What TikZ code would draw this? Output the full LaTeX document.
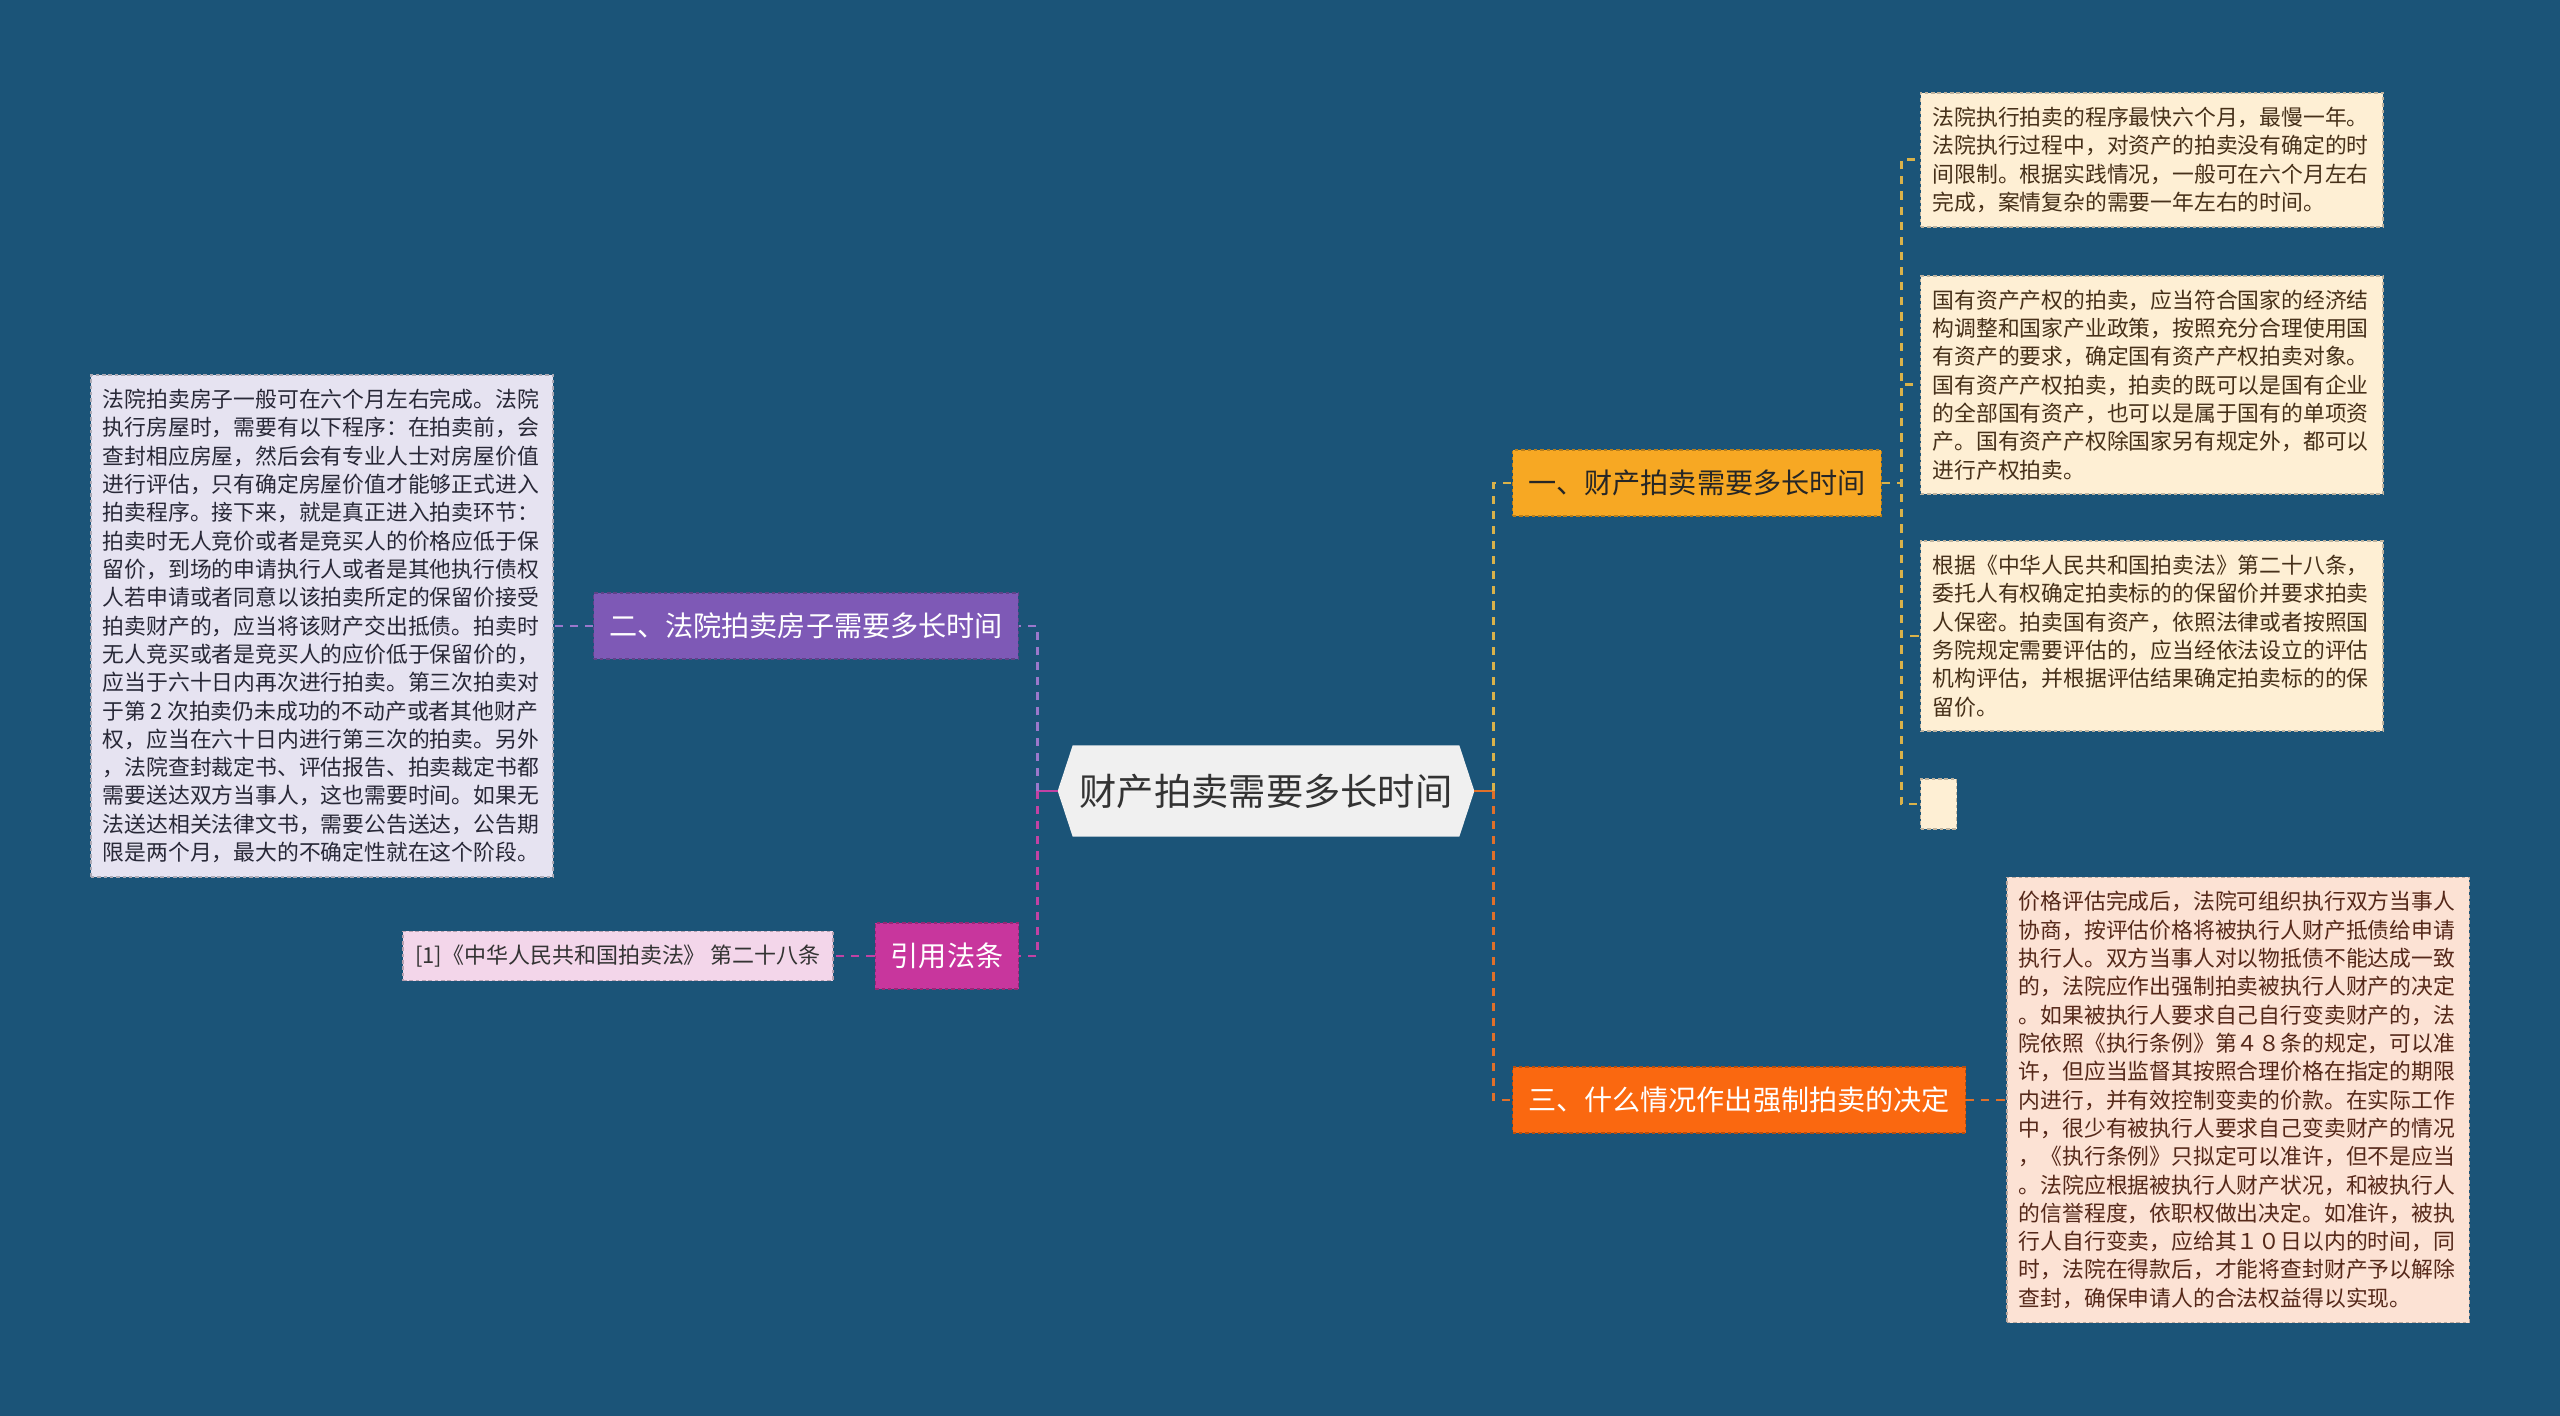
\documentclass[tikz,border=0pt]{standalone}
\usepackage{fontspec}
\setmainfont{Noto Sans CJK SC}
\usetikzlibrary{positioning,backgrounds}
\definecolor{bgBlue}{RGB}{27,84,120}
\definecolor{rootGray}{RGB}{240,240,240}
\definecolor{amber}{RGB}{247,168,35}
\definecolor{amberLine}{RGB}{217,178,74}
\definecolor{lavender}{RGB}{126,89,182}
\definecolor{lavenderLine}{RGB}{155,120,204}
\definecolor{flame}{RGB}{250,104,16}
\definecolor{flameLine}{RGB}{224,112,42}
\definecolor{berry}{RGB}{200,54,157}
\definecolor{berryLine}{RGB}{194,66,164}
\definecolor{creamNote}{RGB}{254,239,212}
\definecolor{peachNote}{RGB}{252,226,212}
\definecolor{lilacNote}{RGB}{230,227,241}
\definecolor{pinkNote}{RGB}{243,214,234}
\definecolor{inkBrown}{RGB}{70,48,25}
\definecolor{inkRed}{RGB}{85,40,25}
\definecolor{inkNavy}{RGB}{40,40,55}

\begin{document}
\begin{tikzpicture}[x=0.01cm, y=-0.01cm, every node/.style={align=left},
    sheet/.style={draw=#1!75!black, fill=#1, dash pattern=on 1pt off 0.8pt, line width=0.4pt},
    rootbox/.style={minimum width=4.15cm, minimum height=0.9cm, inner sep=0pt, text=black!80,
        font=\fontsize{10.6pt}{12pt}\selectfont},
    branchbox/.style={sheet=#1, minimum height=0.66cm, inner xsep=0.155cm, inner ysep=0pt,
        font=\fontsize{8pt}{10pt}\selectfont},
    notebox/.style={sheet=#1, text width=4.38cm, inner xsep=0.12cm, inner ysep=0.14cm,
        font=\fontsize{6.2pt}{8.05pt}\selectfont},
    link/.style={draw=#1, line width=0.85pt, dash pattern=on 2.3pt off 2pt},
    stem/.style={draw=#1, line width=0.85pt}]
    \useasboundingbox (0,0) rectangle (2560,1416);
    \begin{scope}[on background layer]
        \fill[bgBlue] (0,0) rectangle (2560,1416);
    \end{scope}

    % centre and main branches
    \node[rootbox] (root) at (1266,791) {财产拍卖需要多长时间};
    \node[branchbox=amber, text=black!85] (partA) at (1697,483) {一、财产拍卖需要多长时间};
    \node[branchbox=lavender, text=white] (partB) at (806,626) {二、法院拍卖房子需要多长时间};
    \node[branchbox=flame, text=white] (partC) at (1739,1100) {三、什么情况作出强制拍卖的决定};
    \node[branchbox=berry, text=white] (refs) at (947,956) {引用法条};

    \begin{scope}[on background layer]
        \fill[rootGray] (root.west) -- ([xshift=0.15cm]root.north west) -- ([xshift=-0.15cm]root.north east)
            -- (root.east) -- ([xshift=-0.15cm]root.south east) -- ([xshift=0.15cm]root.south west) -- cycle;
    \end{scope}

    % notes of part one
    \node[notebox=creamNote, text=inkBrown, anchor=west] (noteA1) at (1920,160)
        {法院执行拍卖的程序最快六个月，最慢一年。\\法院执行过程中，对资产的拍卖没有确定的时\\间限制。根据实践情况，一般可在六个月左右\\完成，案情复杂的需要一年左右的时间。};
    \node[notebox=creamNote, text=inkBrown, anchor=west] (noteA2) at (1920,385)
        {国有资产产权的拍卖，应当符合国家的经济结\\构调整和国家产业政策，按照充分合理使用国\\有资产的要求，确定国有资产产权拍卖对象。\\国有资产产权拍卖，拍卖的既可以是国有企业\\的全部国有资产，也可以是属于国有的单项资\\产。国有资产产权除国家另有规定外，都可以\\进行产权拍卖。};
    \node[notebox=creamNote, text=inkBrown, anchor=west] (noteA3) at (1920,636)
        {根据《中华人民共和国拍卖法》第二十八条，\\委托人有权确定拍卖标的的保留价并要求拍卖\\人保密。拍卖国有资产，依照法律或者按照国\\务院规定需要评估的，应当经依法设立的评估\\机构评估，并根据评估结果确定拍卖标的的保\\留价。};
    \node[sheet=creamNote, minimum width=0.36cm, minimum height=0.5cm, inner sep=0pt, anchor=west] (noteA4) at (1920,804) {};

    % notes of part two and three
    \node[notebox=lilacNote, text=inkNavy, left=0.39cm of partB] (noteB)
        {法院拍卖房子一般可在六个月左右完成。法院\\执行房屋时，需要有以下程序：在拍卖前，会\\查封相应房屋，然后会有专业人士对房屋价值\\进行评估，只有确定房屋价值才能够正式进入\\拍卖程序。接下来，就是真正进入拍卖环节：\\拍卖时无人竞价或者是竞买人的价格应低于保\\留价，到场的申请执行人或者是其他执行债权\\人若申请或者同意以该拍卖所定的保留价接受\\拍卖财产的，应当将该财产交出抵债。拍卖时\\无人竞买或者是竞买人的应价低于保留价的，\\应当于六十日内再次进行拍卖。第三次拍卖对\\于第\kern0.2em 2\kern0.2em 次拍卖仍未成功的不动产或者其他财产\\权，应当在六十日内进行第三次的拍卖。另外\\，法院查封裁定书、评估报告、拍卖裁定书都\\需要送达双方当事人，这也需要时间。如果无\\法送达相关法律文书，需要公告送达，公告期\\限是两个月，最大的不确定性就在这个阶段。};
    \node[notebox=peachNote, text=inkRed, right=0.4cm of partC] (noteC)
        {价格评估完成后，法院可组织执行双方当事人\\协商，按评估价格将被执行人财产抵债给申请\\执行人。双方当事人对以物抵债不能达成一致\\的，法院应作出强制拍卖被执行人财产的决定\\。如果被执行人要求自己自行变卖财产的，法\\院依照《执行条例》第４８条的规定，可以准\\许，但应当监督其按照合理价格在指定的期限\\内进行，并有效控制变卖的价款。在实际工作\\中，很少有被执行人要求自己变卖财产的情况\\，《执行条例》只拟定可以准许，但不是应当\\。法院应根据被执行人财产状况，和被执行人\\的信誉程度，依职权做出决定。如准许，被执\\行人自行变卖，应给其１０日以内的时间，同\\时，法院在得款后，才能将查封财产予以解除\\查封，确保申请人的合法权益得以实现。};
    \node[sheet=pinkNote, text=black!80, minimum height=0.49cm, inner xsep=0.12cm, inner ysep=0pt,
        font=\fontsize{6.25pt}{8pt}\selectfont, left=0.41cm of refs] (cite)
        {[1]《中华人民共和国拍卖法》 第二十八条};

    % connectors
    \coordinate (lbus) at ([xshift=-0.2cm]root.west);
    \coordinate (rbus) at ([xshift=0.19cm]root.east);
    \draw[stem=berryLine] (root.west) -- (lbus);
    \draw[stem=flameLine] (root.east) -- (rbus);
    \draw[link=lavenderLine] (lbus) |- (partB.east);
    \draw[link=berryLine] (lbus) |- (refs.east);
    \draw[link=amberLine] (rbus) |- (partA.west);
    \draw[link=flameLine] (rbus) |- (partC.west);
    \draw[link=lavenderLine] (partB.west) -- (noteB.east);
    \draw[link=flameLine] (partC.east) -- (noteC.west);
    \draw[link=berryLine] (refs.west) -- (cite.east);
    \foreach \n in {noteA1,noteA2,noteA3,noteA4}
        \draw[link=amberLine] (partA.east) -- ++(19,0) |- (\n.west);
\end{tikzpicture}
\end{document}
